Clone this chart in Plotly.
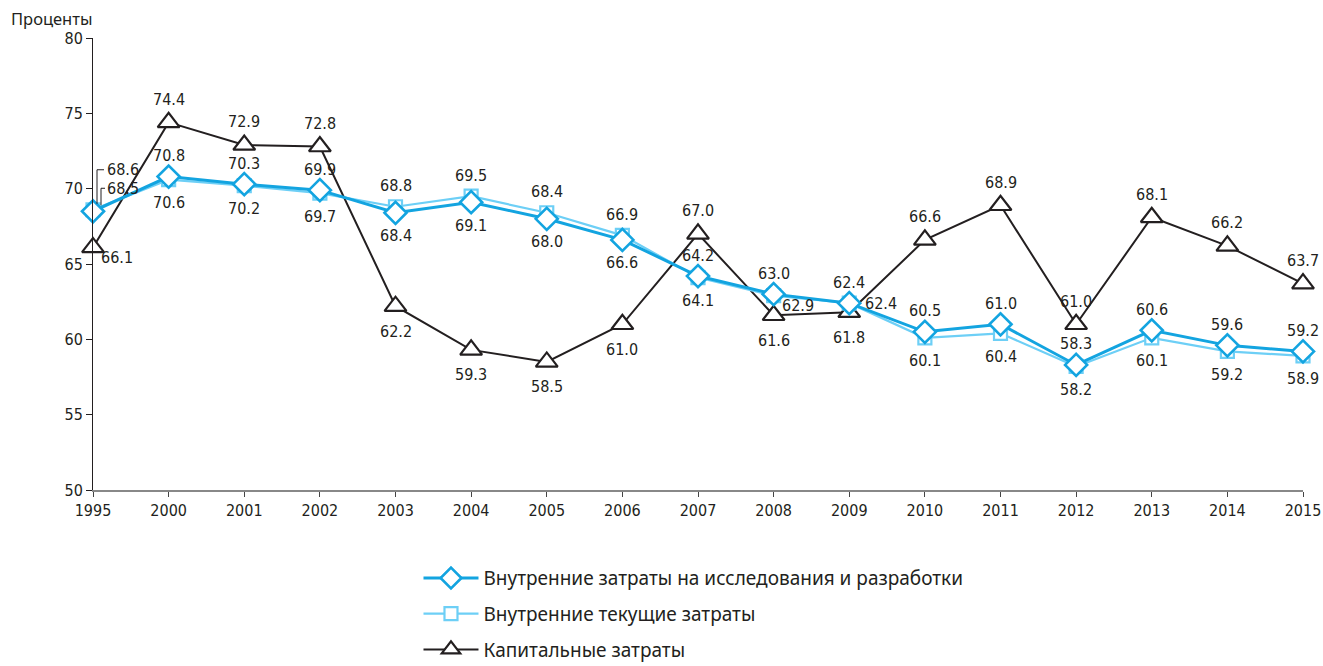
import plotly.graph_objects as go

years = ["1995", "2000", "2001", "2002", "2003", "2004", "2005", "2006", "2007",
         "2008", "2009", "2010", "2011", "2012", "2013", "2014", "2015"]
rnd = [68.5, 70.8, 70.3, 69.9, 68.4, 69.1, 68.0, 66.6, 64.2, 63.0, 62.4, 60.5, 61.0, 58.3, 60.6, 59.6, 59.2]
current = [68.6, 70.6, 70.2, 69.7, 68.8, 69.5, 68.4, 66.9, 64.1, 62.9, 62.4, 60.1, 60.4, 58.2, 60.1, 59.2, 58.9]
capital = [66.1, 74.4, 72.9, 72.8, 62.2, 59.3, 58.5, 61.0, 67.0, 61.6, 61.8, 66.6, 68.9, 61.0, 68.1, 66.2, 63.7]

names = ["Внутренние затраты на исследования и разработки",
         "Внутренние текущие затраты",
         "Капитальные затраты"]

# label placement per point: a=above, b=below, r=right(lower), R=right(level), n=none (leader)
pos_rnd = ["n", "a", "a", "a", "b", "b", "b", "b", "a", "a", "a", "a", "a", "a", "a", "a", "a"]
pos_cur = ["n", "b", "b", "b", "a", "a", "a", "a", "b", "r", "R", "b", "b", "b", "b", "b", "b"]
pos_cap = ["r", "a", "a", "a", "b", "b", "b", "b", "a", "b", "b", "a", "a", "a", "a", "a", "a"]

NUM_FONT = "Liberation Sans Narrow, DejaVu Sans Condensed, Arial Narrow, sans-serif"
TXT_FONT = "Noto Sans, Open Sans, sans-serif"
C_RND = "#13A4E0"
C_CUR = "#6DCFF6"
C_CAP = "#231F20"
xs = list(range(len(years)))

fig = go.Figure()
fig.add_trace(go.Scatter(x=xs, y=capital, name=names[2], mode="lines+markers",
                         line=dict(color=C_CAP, width=2), cliponaxis=False,
                         marker=dict(symbol="triangle-up", size=19, color="white",
                                     line=dict(color=C_CAP, width=2.2)),
                         legendrank=3, legendgroup="c"))
fig.add_trace(go.Scatter(x=xs, y=current, name=names[1], mode="lines+markers",
                         line=dict(color=C_CUR, width=2.2), cliponaxis=False,
                         marker=dict(symbol="square", size=13, color="white",
                                     line=dict(color=C_CUR, width=2.2)),
                         legendrank=2, legendgroup="b"))
fig.add_trace(go.Scatter(x=xs, y=rnd, name=names[0], mode="lines+markers",
                         line=dict(color=C_RND, width=3), cliponaxis=False,
                         marker=dict(symbol="diamond", size=17, color="white",
                                     line=dict(color=C_RND, width=2.6)),
                         legendrank=1, legendgroup="a"))

annotations = []


def add_labels(vals, pos, above=21, below=-23):
    for i, (v, p) in enumerate(zip(vals, pos)):
        if p == "n":
            continue
        kw = dict(x=i, y=v, text=f"{v:.1f}", showarrow=False,
                  font=dict(family=NUM_FONT, size=16, color="#231F20"))
        if p == "a":
            kw.update(yshift=above)
        elif p == "b":
            kw.update(yshift=below)
        elif p == "r":
            kw.update(xshift=24, yshift=-10)
        elif p == "R":
            kw.update(xshift=32, yshift=0)
        annotations.append(kw)


add_labels(rnd, pos_rnd)
add_labels(current, pos_cur)
add_labels(capital, pos_cap, above=23, below=-25)

# 1995 leader labels
annotations.append(dict(x=0, y=current[0], text=f"{current[0]:.1f}", showarrow=False,
                        xanchor="left", xshift=12, yshift=40,
                        font=dict(family=NUM_FONT, size=16, color="#231F20")))
annotations.append(dict(x=0, y=rnd[0], text=f"{rnd[0]:.1f}", showarrow=False,
                        xanchor="left", xshift=12, yshift=23,
                        font=dict(family=NUM_FONT, size=16, color="#231F20")))

annotations.append(dict(xref="paper", yref="paper", x=0, y=1, xshift=-84, yshift=20,
                        xanchor="left", yanchor="middle", text="Проценты", showarrow=False,
                        font=dict(family=TXT_FONT, size=16.5, color="#231F20")))

shapes = [
    dict(type="path", xref="x", yref="y", xsizemode="pixel", ysizemode="pixel",
         xanchor=0, yanchor=current[0], path="M 4 6 V 40 H 11",
         line=dict(color="#231F20", width=1)),
    dict(type="path", xref="x", yref="y", xsizemode="pixel", ysizemode="pixel",
         xanchor=0, yanchor=rnd[0], path="M 8 6 V 23 H 12",
         line=dict(color="#231F20", width=1)),
]

fig.update_layout(
    width=1323, height=666,
    margin=dict(l=93, r=20, t=38, b=176, autoexpand=False),
    plot_bgcolor="white", paper_bgcolor="white",
    showlegend=True,
    legend=dict(orientation="v", x=0.269, y=-0.153, xanchor="left", yanchor="top",
                font=dict(family=TXT_FONT, size=19, color="#231F20"),
                tracegroupgap=8, itemwidth=55, traceorder="grouped"),
    annotations=annotations,
    shapes=shapes,
    xaxis=dict(range=[0, len(years) - 1], tickvals=xs, ticktext=years,
               showgrid=False, zeroline=False, showline=True, linecolor="#888888",
               linewidth=2, ticks="outside", ticklen=5, tickcolor="#444444",
               tickfont=dict(family=NUM_FONT, size=16, color="#231F20")),
    yaxis=dict(range=[50, 80], tickvals=[50, 55, 60, 65, 70, 75, 80],
               showgrid=False, zeroline=False, showline=True, linecolor="#231F20",
               linewidth=1, ticks="outside", ticklen=6, tickcolor="#231F20",
               tickfont=dict(family=NUM_FONT, size=16, color="#231F20")),
)

fig.write_html("out.html", config={"displayModeBar": False},
               post_script="document.body.style.margin='0';document.body.style.padding='0';")
